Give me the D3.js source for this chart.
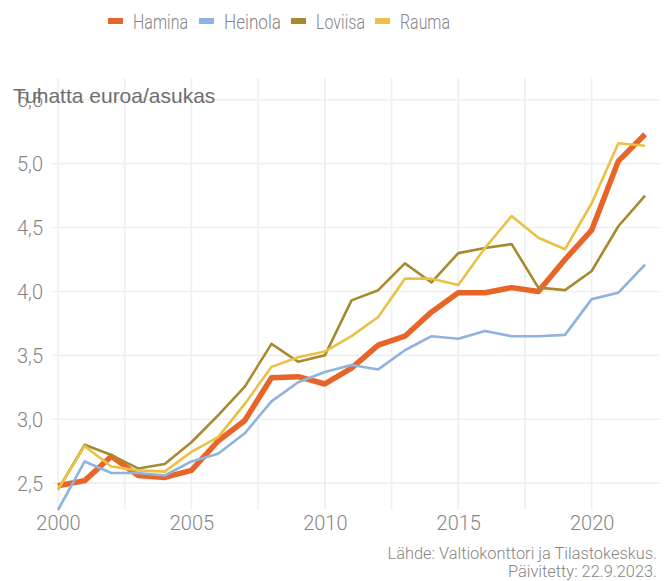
<!DOCTYPE html>
<html>
<head>
<meta charset="utf-8">
<script src="https://cdn.jsdelivr.net/npm/d3@7"></script>
<style>
  body { margin: 0; background: #fff; }
  svg text { font-family: Roboto, Lato, sans-serif; font-weight: 300; }
</style>
</head>
<body>
<div id="chart"></div>
<script>
// vuodet ja sarjat
var years   = d3.range(2000, 2023);
var hamina  = [2.48, 2.52, 2.71, 2.56, 2.545, 2.60, 2.83, 2.99, 3.325, 3.333, 3.276, 3.40, 3.58, 3.65, 3.84, 3.99, 3.99, 4.03, 4.00, 4.25, 4.48, 5.02, 5.23];
var heinola = [2.29, 2.67, 2.58, 2.58, 2.56, 2.67, 2.73, 2.89, 3.14, 3.29, 3.37, 3.425, 3.39, 3.54, 3.65, 3.63, 3.69, 3.65, 3.65, 3.66, 3.94, 3.99, 4.21];
var loviisa = [2.45, 2.80, 2.72, 2.615, 2.65, 2.82, 3.03, 3.255, 3.59, 3.45, 3.50, 3.93, 4.01, 4.22, 4.07, 4.30, 4.34, 4.37, 4.03, 4.01, 4.16, 4.51, 4.75];
var rauma   = [2.45, 2.79, 2.63, 2.60, 2.59, 2.745, 2.86, 3.12, 3.41, 3.485, 3.53, 3.65, 3.80, 4.10, 4.10, 4.05, 4.34, 4.59, 4.42, 4.33, 4.69, 5.16, 5.14];

var names   = ["Hamina", "Heinola", "Loviisa", "Rauma"];
var colors  = ["#e8652a", "#8fb3dc", "#a88a2e", "#eac144"];
var widths  = [5.5, 2.6, 2.6, 2.6];
var yTicks  = [2.5, 3.0, 3.5, 4.0, 4.5, 5.0, 5.5];
var xTicks  = [2000, 2005, 2010, 2015, 2020];
var xGrid   = [2000, 2002.5, 2005, 2007.5, 2010, 2012.5, 2015, 2017.5, 2020];

var series = [hamina, heinola, loviisa, rauma];

var width  = 667,
    height = 581;

var svg = d3.select("#chart")
            .append("svg")
            .attr("width", width)
            .attr("height", height);

var x = d3.scaleLinear().domain([1999.775, 2022.56]).range([52, 660]);
var y = d3.scaleLinear().domain([2.29, 5.67]).range([510, 78]);

// ruudukko
svg.append("g")
   .selectAll("line")
   .data(xGrid)
   .enter()
   .append("line")
   .attr("x1", function(d) { return x(d); })
   .attr("x2", function(d) { return x(d); })
   .attr("y1", y.range()[1])
   .attr("y2", y.range()[0])
   .attr("stroke", "#efefef")
   .attr("stroke-width", 1.6);

svg.append("g")
   .selectAll("line")
   .data(yTicks)
   .enter()
   .append("line")
   .attr("x1", x.range()[0])
   .attr("x2", x.range()[1])
   .attr("y1", function(d) { return y(d); })
   .attr("y2", function(d) { return y(d); })
   .attr("stroke", "#efefef")
   .attr("stroke-width", 1.6);

// akselit
var yAxis = svg.append("g")
   .attr("transform", "translate(" + 43 + ",0)")
   .call(d3.axisLeft(y).tickValues(yTicks).tickSize(0).tickPadding(0)
          .tickFormat(function(d) { return d3.format(".1f")(d).replace(".", ","); }));

var xAxis = svg.append("g")
   .attr("transform", "translate(0," + 512 + ")")
   .call(d3.axisBottom(x).tickValues(xTicks).tickSize(0).tickPadding(4)
          .tickFormat(d3.format("d")));

[yAxis, xAxis].forEach(function(a) {
  a.select(".domain").remove();
  a.selectAll("text")
   .attr("fill", "#858585")
   .style("font-size", "20px")
   .style("font-family", "Roboto, sans-serif")
   .style("font-weight", 300);
});
yAxis.selectAll("text").attr("dy", "0.36em");

svg.append("text")
   .attr("x", 13)
   .attr("y", 103)
   .attr("fill", "#6e6e6e")
   .style("font-family", "'Liberation Sans', Arial, sans-serif")
   .style("font-weight", 400)
   .style("font-size", "21px")
   .text("Tuhatta euroa/asukas");

// viivat
var line = d3.line()
             .x(function(d, i) { return x(years[i]); })
             .y(function(d) { return y(d); });

svg.append("g")
   .selectAll("path")
   .data(series)
   .enter()
   .append("path")
   .attr("d", line)
   .attr("fill", "none")
   .attr("stroke", function(d, i) { return colors[i]; })
   .attr("stroke-width", function(d, i) { return widths[i]; })
   .attr("stroke-linejoin", "round");

// selite (fontti on kapeampi kuin Roboto, joten tekstiä puristetaan)
var legendX = [108, 199, 291, 375];
var legendW = [55, 57, 49, 50];
var legend = svg.append("g")
                .selectAll("g")
                .data(names)
                .enter()
                .append("g")
                .attr("transform", function(d, i) { return "translate(" + legendX[i] + ",21)"; });

legend.append("rect")
      .attr("x", 0)
      .attr("y", -3)
      .attr("width", 15)
      .attr("height", 6)
      .attr("fill", function(d, i) { return colors[i]; });

legend.append("text")
      .attr("x", 25)
      .attr("y", 7.5)
      .attr("fill", "#858585")
      .attr("textLength", function(d, i) { return legendW[i]; })
      .attr("lengthAdjust", "spacingAndGlyphs")
      .style("font-size", "21px")
      .text(function(d) { return d; });

// lähde
svg.append("text")
   .attr("x", 657)
   .attr("y", 559)
   .attr("text-anchor", "end")
   .attr("fill", "#858585")
   .style("font-size", "16.4px")
   .text("Lähde: Valtiokonttori ja Tilastokeskus.");

svg.append("text")
   .attr("x", 657)
   .attr("y", 577)
   .attr("text-anchor", "end")
   .attr("fill", "#858585")
   .style("font-size", "16.4px")
   .text("Päivitetty: 22.9.2023.");
</script>
</body>
</html>
